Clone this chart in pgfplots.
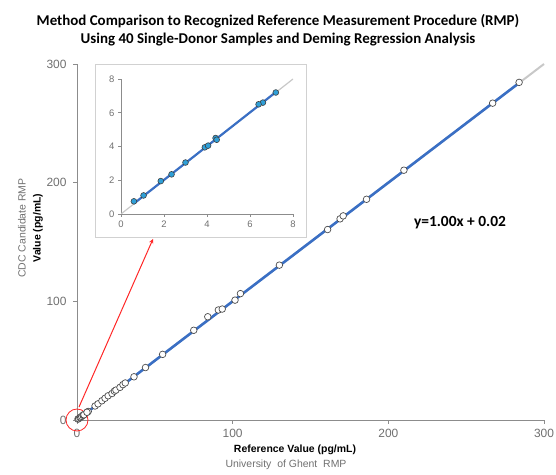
\documentclass[border=0pt]{standalone}
\usepackage{fontspec}
\setmainfont{Liberation Sans}
\newfontfamily\calibri{Carlito}
\usepackage{pgfplots}
\pgfplotsset{compat=1.18}
\definecolor{tickgray}{HTML}{707070}
\definecolor{axgray}{HTML}{8C8C8C}
\definecolor{fitblue}{HTML}{3A6FC4}
\definecolor{idgray}{HTML}{C8C8C8}
\definecolor{dotblue}{HTML}{2E9FD8}

\pgfplotstableread{
x y
0.6 0.75
1.05 1.1
1.85 1.95
2.35 2.35
3.0 3.05
3.9 3.95
4.05 4.05
4.4 4.5
4.45 4.4
6.6 6.6
7.2 7.2
6.4 6.5
11.6 11.8
13.5 13.6
16 16.2
18 18.3
20 20.4
22.5 22.3
24 24.3
25 25.2
27.6 27.5
29.5 29.8
31 31.2
36.6 36.4
44 44.2
55 55.3
75 75.6
84 87
90.8 92.7
93.3 93.5
101.5 101
105 106.5
130 130.5
161 160.5
169 169.5
171 172
186 186
210 210.5
267 267
284 284.5
}\rmpdata

\begin{document}
\begin{tikzpicture}[x=1bp,y=1bp]
\path[use as bounding box] (0,0) rectangle (556,475);

% title
\node[font=\calibri\bfseries\fontsize{15}{17}\selectfont] at (278,454) {Method Comparison to Recognized Reference Measurement Procedure (RMP)};
\node[font=\calibri\bfseries\fontsize{15}{17}\selectfont] at (278,435) {Using 40 Single-Donor Samples and Deming Regression Analysis};

% main axis
\begin{axis}[
  at={(77bp,55bp)}, anchor=origin,
  scale only axis, width=467bp, height=356bp,
  xmin=0, xmax=300, ymin=0, ymax=300,
  axis x line=bottom, axis y line=left,
  axis line style={axgray, line width=0.9pt, -},
  xtick={0,100,200,300}, ytick={0,100,200,300},
  tick style={axgray, line width=0.8pt},
  tick align=outside, major tick length=4bp,
  tick label style={font=\fontsize{12}{14}\selectfont, text=tickgray},
  xticklabel style={yshift=-2bp}, yticklabel style={xshift=-3bp},
  /pgf/number format/assume math mode=true,
  clip=false,
]
\addplot[idgray, line width=2pt, forget plot] coordinates {(0,0) (300,300)};
\addplot[fitblue, line width=2.6pt, forget plot] coordinates {(0,0.02) (284,284.02)};
\addplot[only marks, mark=*, mark size=3.3bp, mark options={fill=white, draw=black!70, line width=0.7pt}] table {\rmpdata};
\draw[red!85, line width=0.8pt] (axis cs:0,0) circle[radius=11bp];
\end{axis}

% inset frame
\draw[black!18, line width=1pt] (95,237) rectangle (306,410);

% inset axis
\begin{axis}[
  at={(121bp,261bp)}, anchor=origin,
  scale only axis, width=172bp, height=135bp,
  xmin=0, xmax=8, ymin=0, ymax=8,
  axis x line=bottom, axis y line=left,
  axis line style={axgray, line width=0.8pt, -},
  xtick={0,2,4,6,8}, ytick={0,2,4,6,8},
  tick style={axgray, line width=0.7pt},
  tick align=outside, major tick length=3bp,
  tick label style={font=\fontsize{9.5}{11}\selectfont, text=tickgray},
  /pgf/number format/assume math mode=true,
]
\addplot[idgray, line width=1.2pt, forget plot] coordinates {(0,0) (8,8)};
\addplot[fitblue, line width=2.2pt, forget plot] coordinates {(0.6,0.62) (7.2,7.22)};
\addplot[only marks, mark=*, mark size=2.9bp, mark options={fill=dotblue, draw=black!75, line width=0.6pt}] table {\rmpdata};
\end{axis}

% arrow from zoomed region to inset
\draw[red!85, line width=1pt, -stealth] (79,68) -- (153,236);

% equation
\node[font=\calibri\bfseries\fontsize{15.5}{17}\selectfont] at (460,252) {y=1.00x + 0.02};

% axis titles
\node[font=\bfseries\fontsize{10.5}{12}\selectfont] at (295,25) {Reference Value (pg/mL)};
\node[font=\fontsize{10.5}{12}\selectfont, text=tickgray] at (286,10) {University\ \ of Ghent\ \ RMP};
\node[rotate=90, font=\fontsize{10.5}{12}\selectfont, text=tickgray] at (22,247) {CDC Candidate RMP};
\node[rotate=90, font=\bfseries\fontsize{10.5}{12}\selectfont] at (38,247) {Value (pg/mL)};
\end{tikzpicture}
\end{document}
